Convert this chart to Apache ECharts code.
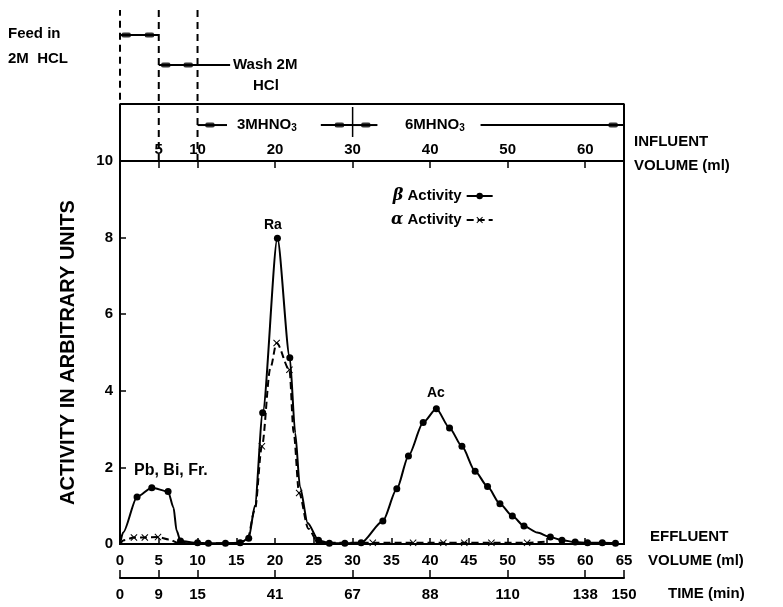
<!DOCTYPE html>
<html>
<head>
<meta charset="utf-8">
<script src="https://cdn.jsdelivr.net/npm/echarts@6/dist/echarts.min.js"></script>
<style>html,body{margin:0;padding:0;background:#fff;}#c{width:783px;height:607px;}</style>
</head>
<body>
<div id="c"></div>
<script>
// ---- data ----
const betaVolume   = [0, 0.4, 2.2, 4.1, 6.2, 6.9, 7.3, 7.8, 10.0, 11.4, 13.6, 15.5, 16.6, 17.4, 18.4, 20.3, 21.9, 22.6, 23.2, 24.2, 25.6, 27.0, 29.0, 31.1, 33.9, 35.7, 37.2, 39.1, 40.8, 42.5, 44.1, 45.8, 47.4, 49.0, 50.6, 52.1, 53.8, 55.5, 57.0, 58.7, 60.3, 62.2, 63.9];
const betaActivity = [0, 0.3, 1.23, 1.47, 1.37, 0.95, 0.35, 0.08, 0.03, 0.02, 0.02, 0.03, 0.15, 1.0, 3.43, 7.98, 4.86, 2.9, 1.5, 0.55, 0.1, 0.02, 0.02, 0.03, 0.6, 1.44, 2.3, 3.17, 3.53, 3.03, 2.55, 1.9, 1.5, 1.05, 0.73, 0.47, 0.3, 0.18, 0.1, 0.05, 0.03, 0.03, 0.02];
const betaMarked   = [0, 0, 1, 1, 1, 0, 0, 1, 1, 1, 1, 1, 1, 0, 1, 1, 1, 0, 0, 0, 1, 1, 1, 1, 1, 1, 1, 1, 1, 1, 1, 1, 1, 1, 1, 1, 0, 1, 1, 1, 1, 1, 1];

const alphaVolume   = [0, 0.5, 1.8, 3.2, 4.9, 6.3, 7.5, 9, 12, 15, 16.4, 17.4, 18.3, 19.4, 20.2, 21.85, 22.4, 23.1, 24.3, 25.5, 28, 32.6, 37.8, 41.7, 44.4, 47.9, 52.5, 55.0];
const alphaActivity = [0, 0.1, 0.17, 0.17, 0.18, 0.12, 0.03, 0.02, 0.02, 0.02, 0.1, 0.9, 2.55, 4.6, 5.25, 4.55, 2.9, 1.33, 0.4, 0.05, 0.03, 0.03, 0.03, 0.03, 0.03, 0.03, 0.03, 0.06];
const alphaMarked   = [0, 0, 1, 1, 1, 0, 0, 0, 0, 0, 0, 0, 1, 0, 1, 1, 0, 1, 0, 0, 0, 1, 1, 1, 1, 1, 1, 0];

const effluentTicks = [0, 5, 10, 15, 20, 25, 30, 35, 40, 45, 50, 55, 60, 65];
const influentTicks = [5, 10, 20, 30, 40, 50, 60];
const timeTickVolumes = [0, 5, 10, 20, 30, 40, 50, 60, 65];
const timeTickLabels  = ['0', '9', '15', '41', '67', '88', '110', '138', '150'];
const yTicks = [0, 2, 4, 6, 8, 10];

// annotation (solvent programme) in volume units
const feedRange = [-3.9, 5];
const washRange = [5, 14.2];
const hno3Segments = [[10, 13.8], [25.9, 30], [30, 33.2], [46.5, 65]];
const programmeBoundaries = [0, 5, 10];

// ---- chart ----
const FF = 'Liberation Sans, Arial, sans-serif';
const chart = echarts.init(document.getElementById('c'), null, {renderer: 'canvas'});

function pts(xs, ys, marks) {
  return xs.map((x, i) => {
    const d = {value: [x, ys[i]]};
    if (!marks[i]) d.symbol = 'none';
    return d;
  });
}
const crossPath = 'path://M0,1L1,0L5,4L9,0L10,1L6,5L10,9L9,10L5,6L1,10L0,9L4,5Z';

// annotation grid levels (0 = influent axis line, 1 = top of annotation grid)
const L_BOX = 0.373, L_FEED = 0.824, L_WASH = 0.627, L_ACID = 0.235, L_DASH_TOP = 0.987, L_DASH0_BOT = 0.40;

function seg(data, opt) {
  return Object.assign({
    type: 'line', xAxisIndex: 3, yAxisIndex: 1, data: data, symbol: 'none',
    clip: false, silent: true, animation: false,
    lineStyle: {color: '#000', width: 2}
  }, opt || {});
}

const annotationSeries = [];
annotationSeries.push(seg([[0, 0], [0, L_BOX], [65, L_BOX], [65, 0]]));
programmeBoundaries.forEach(v => {
  annotationSeries.push(seg([[v, v === 0 ? L_DASH0_BOT : 0], [v, L_DASH_TOP]],
    {lineStyle: {color: '#000', width: 2, type: [7, 5]}}));
});
annotationSeries.push(seg([[30, 0.157], [30, 0.353]], {lineStyle: {color: '#000', width: 1.5}}));
annotationSeries.push(seg([[feedRange[0], L_FEED], [feedRange[1], L_FEED]]));
annotationSeries.push(seg([[washRange[0], L_WASH], [washRange[1], L_WASH]]));
hno3Segments.forEach(s => annotationSeries.push(seg([[s[0], L_ACID], [s[1], L_ACID]])));
annotationSeries.push({
  type: 'scatter', xAxisIndex: 3, yAxisIndex: 1, clip: false, silent: true, animation: false,
  symbol: 'roundRect', symbolSize: [9, 5], itemStyle: {color: '#000'},
  data: [[0.8, L_FEED], [3.8, L_FEED], [5.9, L_WASH], [8.8, L_WASH], [11.6, L_ACID], [28.3, L_ACID], [31.7, L_ACID], [63.6, L_ACID]]
});

const tickLabel = {fontFamily: FF, fontWeight: 'bold', fontSize: 15, color: '#000'};

const option = {
  backgroundColor: '#fff',
  animation: false,
  grid: [
    {left: 120, right: 159, top: 161, bottom: 63, show: true, borderColor: '#000', borderWidth: 2, backgroundColor: 'transparent'},
    {left: 120, right: 159, top: 8, height: 153, show: false}
  ],
  legend: {
    orient: 'vertical', left: 386, top: 183, align: 'right',
    itemWidth: 26, itemHeight: 8, itemGap: 8,
    textStyle: {fontFamily: FF, fontWeight: 'bold', fontSize: 15, color: '#000',
      rich: {g: {fontFamily: 'DejaVu Serif, serif', fontStyle: 'italic', fontSize: 16, color: '#000'}}},
    formatter: n => '{g|' + n.charAt(0) + '} ' + n.slice(2),
    data: ['β Activity', 'α Activity']
  },
  xAxis: [
    {type: 'value', gridIndex: 0, position: 'bottom', min: 0, max: 65, interval: 5,
      axisLine: {show: true, lineStyle: {color: '#000', width: 2}},
      axisTick: {show: true, inside: true, length: 6, lineStyle: {color: '#000', width: 1.5}},
      axisLabel: Object.assign({margin: 9, showMinLabel: true, showMaxLabel: true}, tickLabel),
      splitLine: {show: false}},
    {type: 'value', gridIndex: 0, position: 'top', min: 0, max: 65,
      axisLine: {show: true, lineStyle: {color: '#000', width: 2}},
      axisTick: {show: true, inside: true, length: 7, customValues: influentTicks, lineStyle: {color: '#000', width: 1.5}},
      axisLabel: Object.assign({margin: 4, customValues: influentTicks}, tickLabel),
      splitLine: {show: false}},
    {type: 'value', gridIndex: 0, position: 'bottom', offset: 34, min: 0, max: 65,
      axisLine: {show: true, lineStyle: {color: '#000', width: 2}},
      axisTick: {show: true, inside: true, length: 8, customValues: timeTickVolumes, lineStyle: {color: '#000', width: 1.5}},
      axisLabel: Object.assign({margin: 9, customValues: timeTickVolumes,
        formatter: v => { const i = timeTickVolumes.indexOf(v); return i >= 0 ? timeTickLabels[i] : ''; }}, tickLabel),
      splitLine: {show: false}},
    {type: 'value', gridIndex: 1, min: 0, max: 65, show: false}
  ],
  yAxis: [
    {type: 'value', gridIndex: 0, min: 0, max: 10, interval: 2,
      axisLine: {show: true, lineStyle: {color: '#000', width: 2}},
      axisTick: {show: true, inside: true, length: 6, lineStyle: {color: '#000', width: 1.5}},
      axisLabel: Object.assign({margin: 7, customValues: yTicks}, tickLabel),
      splitLine: {show: false},
      name: 'ACTIVITY IN ARBITRARY UNITS', nameLocation: 'middle', nameGap: 42, nameRotate: 90,
      nameTextStyle: {fontFamily: FF, fontWeight: 'bold', fontSize: 20, color: '#000'}},
    {type: 'value', gridIndex: 1, min: 0, max: 1, show: false}
  ],
  series: [
    {name: 'β Activity', type: 'line', xAxisIndex: 0, yAxisIndex: 0,
      data: pts(betaVolume, betaActivity, betaMarked),
      smooth: 0.25, smoothMonotone: 'x',
      symbol: 'circle', symbolSize: 7, showAllSymbol: true,
      lineStyle: {color: '#000', width: 2}, itemStyle: {color: '#000'}, z: 5},
    {name: 'α Activity', type: 'line', xAxisIndex: 0, yAxisIndex: 0,
      data: pts(alphaVolume, alphaActivity, alphaMarked),
      smooth: 0.3, smoothMonotone: 'x',
      symbol: crossPath, symbolSize: 7, showAllSymbol: true,
      lineStyle: {color: '#000', width: 2, type: [7, 4]}, itemStyle: {color: '#000'}, z: 4}
  ].concat(annotationSeries),
  graphic: [
    {type: 'text', left: 8, top: 26, style: {text: 'Feed in', font: 'bold 15px ' + FF, fill: '#000'}},
    {type: 'text', left: 8, top: 51, style: {text: '2M  HCL', font: 'bold 15px ' + FF, fill: '#000'}},
    {type: 'text', left: 233, top: 57, style: {text: 'Wash 2M', font: 'bold 15px ' + FF, fill: '#000'}},
    {type: 'text', left: 253, top: 78, style: {text: 'HCl', font: 'bold 15px ' + FF, fill: '#000'}},
    {type: 'text', left: 237, top: 117, style: {
      text: '3MHNO{s|3}', font: 'bold 15px ' + FF, fill: '#000',
      rich: {s: {font: 'bold 10px ' + FF, fill: '#000', padding: [8, 0, 0, 0]}}}},
    {type: 'text', left: 405, top: 117, style: {
      text: '6MHNO{s|3}', font: 'bold 15px ' + FF, fill: '#000',
      rich: {s: {font: 'bold 10px ' + FF, fill: '#000', padding: [8, 0, 0, 0]}}}},
    {type: 'text', left: 634, top: 134, style: {text: 'INFLUENT', font: 'bold 15px ' + FF, fill: '#000'}},
    {type: 'text', left: 634, top: 158, style: {text: 'VOLUME (ml)', font: 'bold 15px ' + FF, fill: '#000'}},
    {type: 'text', left: 650, top: 529, style: {text: 'EFFLUENT', font: 'bold 15px ' + FF, fill: '#000'}},
    {type: 'text', left: 648, top: 553, style: {text: 'VOLUME (ml)', font: 'bold 15px ' + FF, fill: '#000'}},
    {type: 'text', left: 668, top: 586, style: {text: 'TIME (min)', font: 'bold 15px ' + FF, fill: '#000'}},
    {type: 'text', left: 264, top: 218, style: {text: 'Ra', font: 'bold 14px ' + FF, fill: '#000'}},
    {type: 'text', left: 134, top: 463, style: {text: 'Pb, Bi, Fr.', font: 'bold 16px ' + FF, fill: '#000'}},
    {type: 'text', left: 427, top: 386, style: {text: 'Ac', font: 'bold 14px ' + FF, fill: '#000'}}
  ]
};
chart.setOption(option);
</script>
</body>
</html>
